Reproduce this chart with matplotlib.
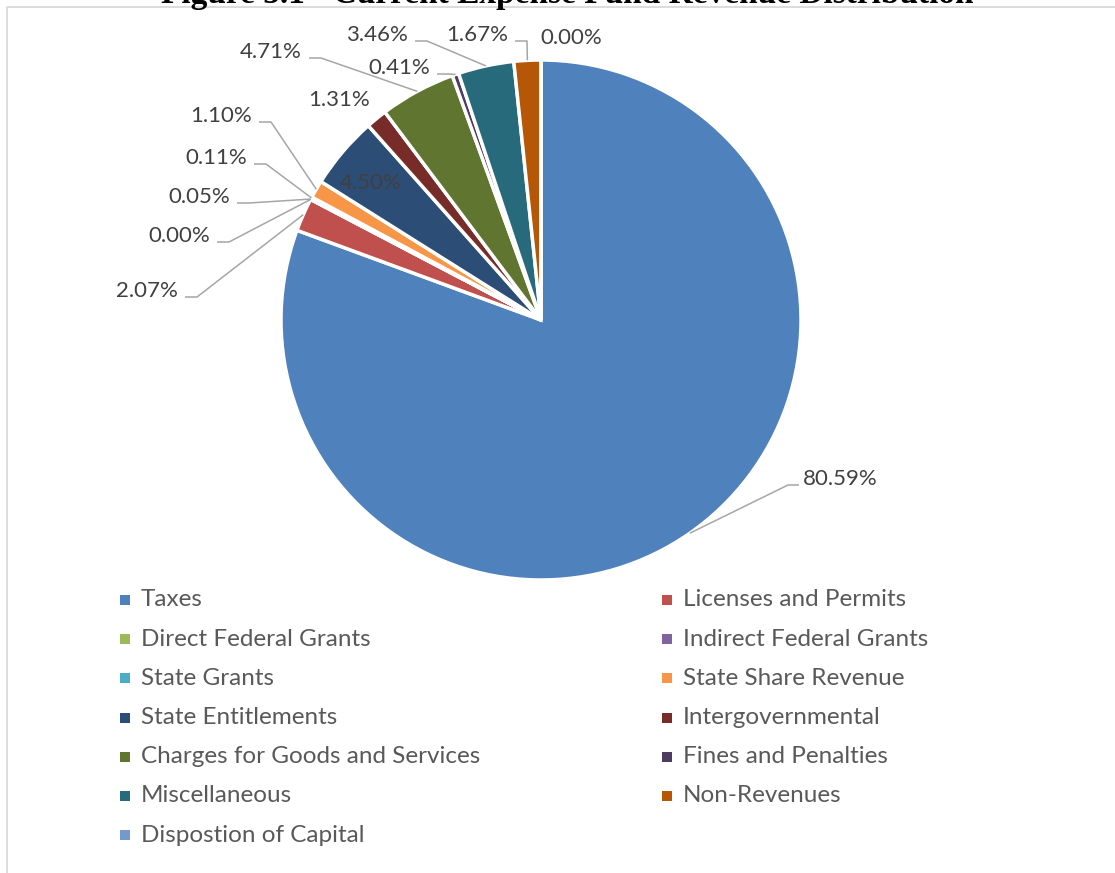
import numpy as np
import matplotlib.pyplot as plt
from matplotlib.patches import Rectangle

W, H = 1115, 873

categories = ["Taxes", "Licenses and Permits", "Direct Federal Grants",
              "Indirect Federal Grants", "State Grants", "State Share Revenue",
              "State Entitlements", "Intergovernmental",
              "Charges for Goods and Services", "Fines and Penalties",
              "Miscellaneous", "Non-Revenues", "Dispostion of Capital"]
shares = [80.59, 2.07, 0.00, 0.05, 0.11, 1.10, 4.50, 1.31, 4.71, 0.41, 3.46, 1.67, 0.00]
colors = ["#4F81BD", "#C0504D", "#9BBB59", "#8064A2", "#4BACC6", "#F79646",
          "#2C4D75", "#772C2A", "#5F7530", "#4D3B62", "#276A7C", "#B65708",
          "#729ACA"]

# label layout in pixels from the top-left: (x, y, align, leader line?)
label_layout = [
    (803, 479, "left", True),
    (178, 291, "right", True),
    (210, 236, "right", True),
    (230, 197, "right", True),
    (247, 158, "right", True),
    (252, 116, "right", True),
    (371, 183, "center", False),
    (370, 100, "right", False),
    (302, 52, "right", True),
    (430, 68, "right", True),
    (408, 35, "right", True),
    (508, 35, "right", True),
    (540, 38, "left", False),
]

FONT = ["Lato", "DejaVu Sans"]


def py(y):
    # pixel row (top-down) -> data y (bottom-up)
    return H - y


fig = plt.figure(figsize=(W / 100, H / 100), dpi=100)
ax = fig.add_axes([0, 0, 1, 1])

cx, cy, radius = 541, py(320), 260
wedges, _ = ax.pie(shares, colors=colors, startangle=90, counterclock=False,
                   center=(cx, cy), radius=radius,
                   wedgeprops=dict(edgecolor="white", linewidth=2.5))
ax.set_xlim(0, W)
ax.set_ylim(0, H)
ax.set_aspect("equal")
ax.axis("off")

# data labels with leader lines
for w, v, (lx, ly, ha, leader) in zip(wedges, shares, label_layout):
    ax.text(lx, py(ly), f"{v:.2f}%", ha=ha, va="center", fontsize=16,
            color="#404040", family=FONT)
    if not leader:
        continue
    mid = np.deg2rad((w.theta1 + w.theta2) / 2)
    ex, ey = cx + radius * np.cos(mid), cy + radius * np.sin(mid)
    if ha == "right":
        xs = [lx + 7, lx + 19, ex]
    else:
        xs = [lx - 4, lx - 15, ex]
    ys = [py(ly + 6), py(ly + 6), ey]
    ax.plot(xs, ys, color="#A6A6A6", lw=1.1, solid_capstyle="butt")

# legend, two columns filled row by row
for i, (name, c) in enumerate(zip(categories, colors)):
    row, col = divmod(i, 2)
    x0 = 125 if col == 0 else 667
    y0 = 600 + row * 39.2
    ax.add_patch(Rectangle((x0 - 5, py(y0) - 5), 10, 10, facecolor=c,
                           edgecolor="none"))
    ax.text(x0 + 16, py(y0), name, ha="left", va="center", fontsize=17.5,
            color="#595959", family=FONT)

# chart frame
ax.plot([7, 7, W], [0, py(7), py(7)], color="#D9D9D9", lw=1.3)

ax.text(567, py(3), "Figure 5.1 - Current Expense Fund Revenue Distribution",
        ha="center", va="baseline", fontsize=24, fontweight="bold",
        family="Liberation Serif", color="black")

fig.savefig("out.png", dpi=100)
